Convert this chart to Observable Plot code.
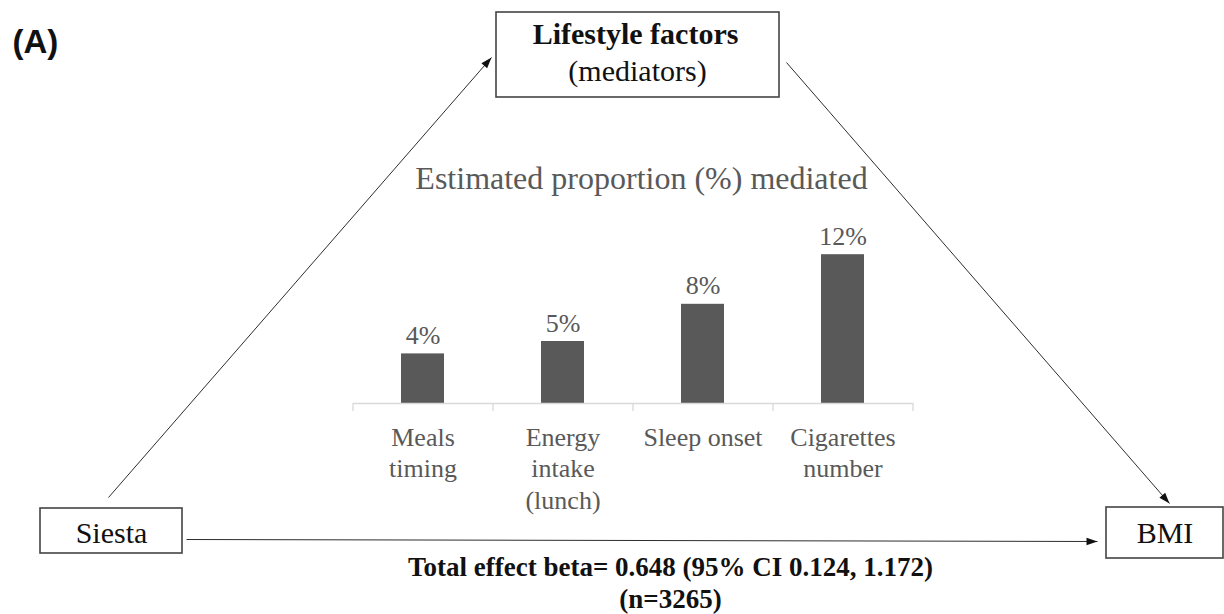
<!DOCTYPE html>
<html>
<head>
<meta charset="utf-8">
<script src="https://cdn.jsdelivr.net/npm/d3@7"></script>
<script src="https://cdn.jsdelivr.net/npm/@observablehq/plot@0.6"></script>
<style>
html, body { margin: 0; padding: 0; background: #fff; }
#wrap { position: relative; width: 1224px; height: 614px; overflow: hidden; }
#wrap svg { position: absolute; left: 0; top: 0; }
</style>
</head>
<body>
<div id="wrap"></div>
<script>
// ---- data ----
const categories = ["Meals timing", "Energy intake (lunch)", "Sleep onset", "Cigarettes number"];
const mediated = [4, 5, 8, 12];
const tickLabels = ["Meals\ntiming", "Energy\nintake\n(lunch)", "Sleep onset", "Cigarettes\nnumber"];
const nodeLabels = ["Siesta", "Lifestyle factors", "BMI"];
const mediatorNote = "(mediators)";
const chartTitle = "Estimated proportion (%) mediated";
const totalEffect = "Total effect beta= 0.648 (95% CI 0.124, 1.172)\n(n=3265)";
const panelLabel = "(A)";

// ---- layout (pixels) ----
const W = 1224, H = 614;
const layout = {
  chart: { left: 353, right: 913, base: 403, top: 254.2, ymax: 12 },
  boxes: [
    { x1: 40, y1: 508, x2: 182, y2: 553 },
    { x1: 496, y1: 12, x2: 779, y2: 97 },
    { x1: 1106, y1: 507, x2: 1223, y2: 558 }
  ],
  arrows: [
    { x1: 108, y1: 497, x2: 491, y2: 57 },
    { x1: 786, y1: 62, x2: 1169, y2: 503 },
    { x1: 186, y1: 539, x2: 1097, y2: 541 }
  ]
};
const serif = "'Liberation Serif', 'Times New Roman', serif";
const grey = "#595959";

const wrap = document.getElementById("wrap");

// ---- diagram (boxes, arrows, texts) ----
const arrows = layout.arrows.map(a => ({ ...a, rot: Math.atan2(a.x2 - a.x1, -(a.y2 - a.y1)) * 180 / Math.PI }));
const b = layout.boxes;
const diagram = Plot.plot({
  width: W, height: H, margin: 0,
  x: { type: "identity", axis: null },
  y: { type: "identity", axis: null },
  style: { fontFamily: serif, background: "white" },
  marks: [
    Plot.link(arrows, { x1: "x1", y1: "y1", x2: "x2", y2: "y2", stroke: "#2e2e2e", strokeWidth: 1 }),
    Plot.vector(arrows, { x: "x2", y: "y2", rotate: "rot", length: 11, r: 3.8, anchor: "end", shape: "spike", fill: "#111", stroke: "none" }),
    Plot.rect(b, { x1: "x1", y1: "y1", x2: "x2", y2: "y2", fill: "white", stroke: "#444", strokeWidth: 1.6 }),
    Plot.text([nodeLabels[0]], { x: (b[0].x1 + b[0].x2) / 2, y: 542, text: d => d, fontFamily: serif, fontSize: 30, fill: "#111", textAnchor: "middle", lineAnchor: "bottom" }),
    Plot.text([nodeLabels[2]], { x: (b[2].x1 + b[2].x2) / 2, y: 542, text: d => d, fontFamily: serif, fontSize: 30, fill: "#111", textAnchor: "middle", lineAnchor: "bottom" }),
    Plot.text([nodeLabels[1]], { x: 635, y: 43, text: d => d, fontFamily: serif, fontSize: 30, fontWeight: "bold", fill: "#111", textAnchor: "middle", lineAnchor: "bottom" }),
    Plot.text([mediatorNote], { x: 637, y: 80, text: d => d, fontFamily: serif, fontSize: 30, fill: "#111", textAnchor: "middle", lineAnchor: "bottom" }),
    Plot.text([chartTitle], { x: 641, y: 188, text: d => d, fontFamily: serif, fontSize: 32, fill: grey, textAnchor: "middle", lineAnchor: "bottom" }),
    Plot.text([totalEffect], { x: 670, y: 607, text: d => d, fontFamily: serif, fontSize: 27, fontWeight: "bold", lineHeight: 1.15, fill: "#111", textAnchor: "middle", lineAnchor: "bottom" }),
    Plot.text([panelLabel], { x: 12, y: 52, text: d => d, fontSize: 33, fontWeight: "bold", fontFamily: "'Liberation Sans', Arial, sans-serif", fill: "#111", textAnchor: "start", lineAnchor: "bottom" })
  ]
});
wrap.appendChild(diagram);

// ---- bar chart ----
const c = layout.chart;
const data = categories.map((cat, i) => ({ cat, v: mediated[i] }));
const step = (c.right - c.left) / categories.length;
const pxPerUnit = (c.base - c.top) / c.ymax;
const tickLen = 8 / pxPerUnit;
const bars = Plot.plot({
  width: W, height: H,
  marginLeft: c.left, marginRight: W - c.right, marginTop: c.top, marginBottom: H - c.base,
  x: { domain: categories, paddingInner: 0.69, paddingOuter: 0.345, axis: null, label: null },
  y: { domain: [0, c.ymax], axis: null, label: null },
  style: { background: "transparent", fontFamily: serif, fontSize: "26px", color: grey, overflow: "visible" },
  marks: [
    Plot.barY(data, { x: "cat", y: "v", fill: grey }),
    Plot.ruleY([0], { stroke: "#d9d9d9", strokeWidth: 1.3 }),
    Plot.ruleX(categories, { x: d => d, y1: 0, y2: -tickLen, dx: -step / 2, stroke: "#d9d9d9", strokeWidth: 1.3 }),
    Plot.ruleX(categories.slice(-1), { x: d => d, y1: 0, y2: -tickLen, dx: step / 2, stroke: "#d9d9d9", strokeWidth: 1.3 }),
    Plot.text(data, { x: "cat", y: "v", text: d => d.v + "%", dy: -10, lineAnchor: "bottom", fontFamily: serif, fontSize: 26, fill: grey }),
    Plot.axisX({ label: null, tickSize: 0, tickPadding: 20.5, tickFormat: d => tickLabels[categories.indexOf(d)], fontFamily: serif, fontSize: 26, lineHeight: 1.2, fill: grey })
  ]
});
wrap.appendChild(bars);
</script>
</body>
</html>
